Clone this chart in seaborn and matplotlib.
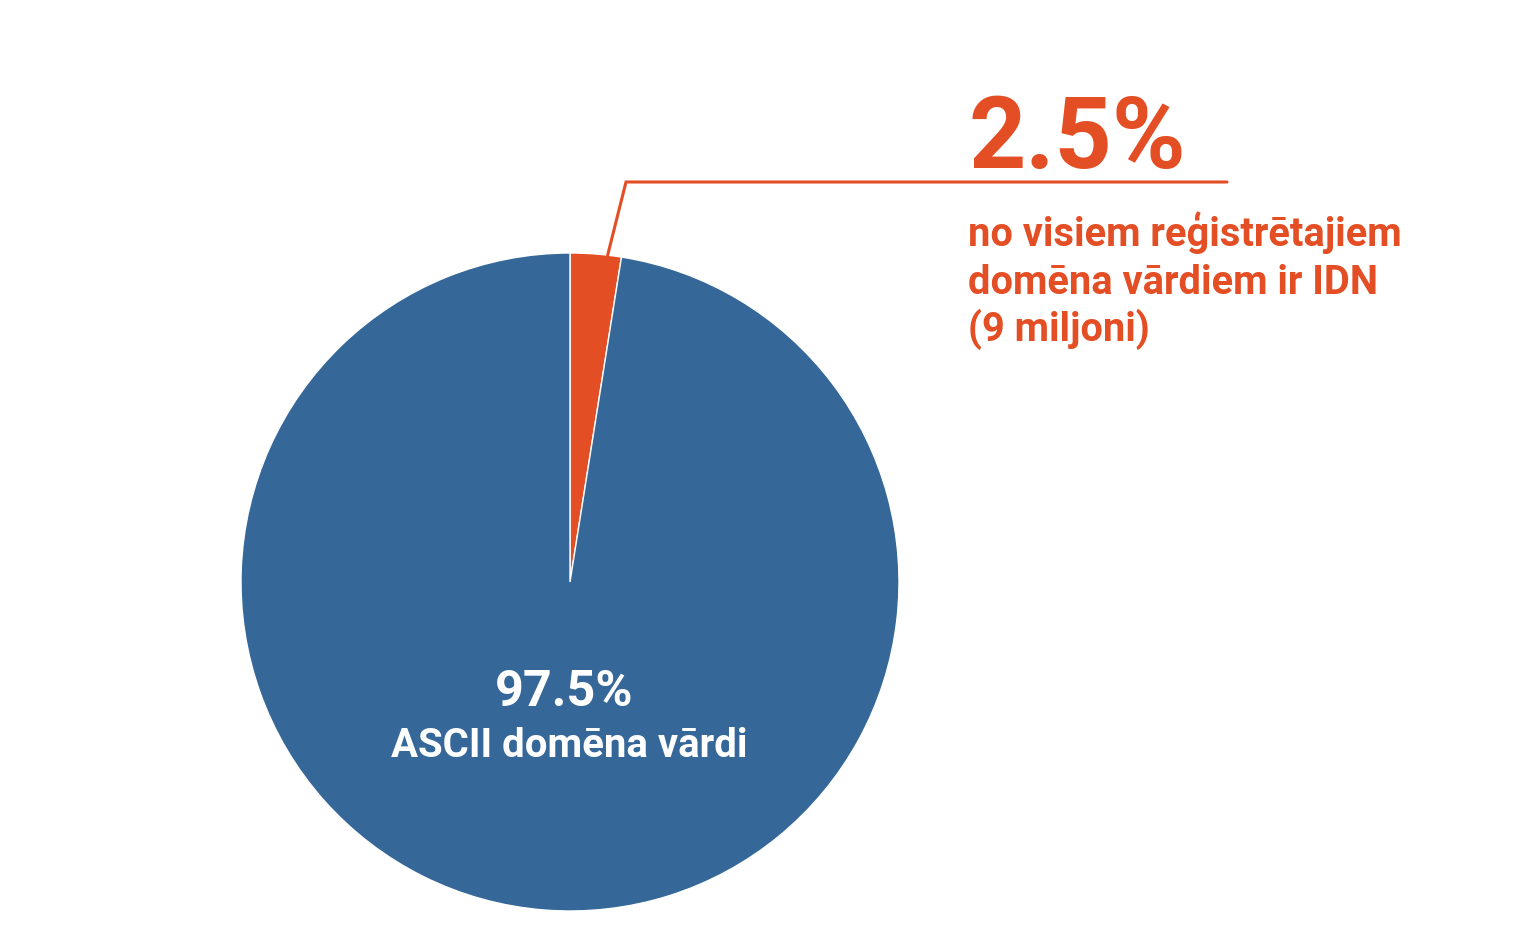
import matplotlib
matplotlib.use("Agg")
import matplotlib.pyplot as plt
import seaborn as sns
import numpy as np

# data
labels = ['IDN', 'ASCII domēna vārdi']
shares = [2.5, 97.5]
colors = ['#E44E25', '#356899']
idn_lines = ['no visiem reģistrētajiem', 'domēna vārdiem ir IDN', '(9 miljoni)']

sns.set_theme(style='white')
plt.rcParams['font.family'] = ['Roboto', 'DejaVu Sans']
plt.rcParams['font.weight'] = 'bold'

W, H = 1539, 940
fig = plt.figure(figsize=(W / 100, H / 100), dpi=100)
ax = fig.add_axes([0, 0, 1, 1])

cx, cy, r = 570, H - 582, 329
wedges, _ = ax.pie(shares, colors=colors, startangle=90, counterclock=False,
                   center=(cx, cy), radius=r,
                   wedgeprops={'edgecolor': 'white', 'linewidth': 1})
ax.set_xlim(0, W)
ax.set_ylim(0, H)
ax.set_aspect('equal')
ax.axis('off')

# leader line from the IDN slice
w = wedges[0]
ang = np.deg2rad(w.theta1 + 0.27 * (w.theta2 - w.theta1))
p0 = (cx + r * np.cos(ang), cy + r * np.sin(ang))
ax.plot([p0[0], 626, 1227], [p0[1], H - 182, H - 182], color=colors[0], lw=2.2,
        solid_joinstyle='miter')

ax.text(968, H - 168, f'{shares[0]}%', fontsize=72, color=colors[0],
        ha='left', va='baseline', fontweight='bold')
for i, line in enumerate(idn_lines):
    ax.text(968, H - 246 - i * 47.5, line, fontsize=28.7, color=colors[0],
            ha='left', va='baseline', fontweight='bold')

# label inside the big slice
ax.text(564, H - 706, f'{shares[1]}%', fontsize=36.3, color='white',
        ha='center', va='baseline', fontweight='bold')
ax.text(569, H - 757, labels[1], fontsize=28.9, color='white',
        ha='center', va='baseline', fontweight='bold')

fig.savefig('out.png', dpi=100)
